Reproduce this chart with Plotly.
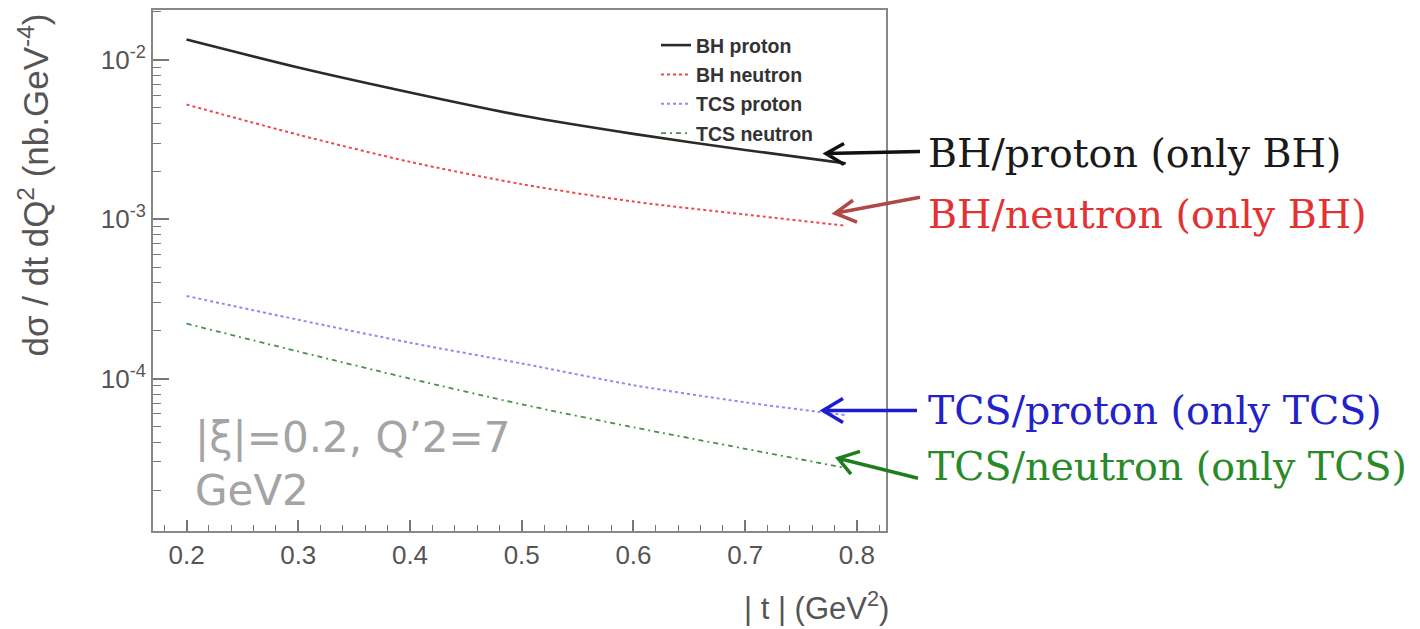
import plotly.graph_objects as go

# |t| grid (GeV^2) and cross sections (nb.GeV^-4)
t_vals = [0.20, 0.30, 0.40, 0.50, 0.60, 0.70, 0.79]
bh_proton = [1.340e-2, 8.95e-3, 6.24e-3, 4.47e-3, 3.43e-3, 2.72e-3, 2.24e-3]
bh_neutron = [5.24e-3, 3.39e-3, 2.29e-3, 1.66e-3, 1.29e-3, 1.07e-3, 9.1e-4]
tcs_proton = [3.30e-4, 2.34e-4, 1.68e-4, 1.245e-4, 9.1e-5, 7.1e-5, 5.9e-5]
tcs_neutron = [2.21e-4, 1.48e-4, 1.00e-4, 6.9e-5, 4.95e-5, 3.63e-5, 2.75e-5]

x_ticks = [0.2, 0.3, 0.4, 0.5, 0.6, 0.7, 0.8]
x_tick_labels = ["0.2", "0.3", "0.4", "0.5", "0.6", "0.7", "0.8"]
y_ticks = [1e-4, 1e-3, 1e-2]
y_tick_labels = ["10<sup>-4</sup>", "10<sup>-3</sup>", "10<sup>-2</sup>"]
y_minor = [m * 10.0 ** e for e in (-5, -4, -3, -2) for m in range(2, 10)]

W, H = 1420, 629
L, R, T, B = 153, 886, 8, 531


def px(x, y):
    """Pixel position -> paper coordinates."""
    return (x - L) / (R - L), (B - y) / (B - T)


fig = go.Figure()
series = [
    ("BH proton", bh_proton, "#2a2a2a", "solid", 2.6),
    ("BH neutron", bh_neutron, "#f04848", "dot", 2.0),
    ("TCS proton", tcs_proton, "#8c8cf4", "dot", 2.0),
    ("TCS neutron", tcs_neutron, "#4e8e4e", "5px,4px,2px,4px", 1.8),
]
for name, vals, col, dash, w in series:
    fig.add_trace(go.Scatter(
        x=t_vals, y=vals, name=name, mode="lines", legendgroup=name,
        line=dict(color=col, dash=dash, width=w, shape="spline", smoothing=0.8),
    ))

axis_font = dict(family="Liberation Sans, Arial, sans-serif", size=26, color="#555555")

fig.update_layout(
    width=W, height=H,
    margin=dict(l=L, r=W - R, t=T, b=H - B),
    paper_bgcolor="white", plot_bgcolor="white",
    showlegend=True,
    legend=dict(
        x=px(656, 0)[0], y=px(0, 24)[1], xanchor="left", yanchor="top",
        bgcolor="rgba(255,255,255,0)", borderwidth=0,
        font=dict(family="Liberation Sans, Arial, sans-serif", size=19.5, color="#333333",
                  weight="bold"),
        tracegroupgap=1, traceorder="grouped",
    ),
    xaxis=dict(
        range=[0.17, 0.826], tickvals=x_ticks, ticktext=x_tick_labels,
        ticks="inside", ticklen=11, tickwidth=1.5, tickcolor="#777777",
        minor=dict(dtick=0.02, ticks="inside", ticklen=6, tickwidth=1.2, tickcolor="#777777"),
        showline=True, linecolor="#888888", linewidth=2, mirror=True,
        showgrid=False, zeroline=False, tickfont=axis_font,
    ),
    yaxis=dict(
        type="log", range=[-4.956, -1.6875], tickvals=y_ticks, ticktext=y_tick_labels,
        ticks="inside", ticklen=16, tickwidth=1.5, tickcolor="#777777",
        minor=dict(tickvals=y_minor, ticks="inside", ticklen=8, tickwidth=1.2,
                   tickcolor="#777777"),
        showline=True, linecolor="#888888", linewidth=2, mirror=True,
        showgrid=False, zeroline=False, tickfont=axis_font,
    ),
)

annotations = []
# axis titles, aligned to the far ends of the axes
ax_, ay_ = px(0, 10)
annotations.append(dict(
    xref="paper", yref="paper", x=px(34, 0)[0], y=ay_, xanchor="center", yanchor="top",
    textangle=-90, showarrow=False,
    text="dσ / dt dQ<sup>2</sup> (nb.GeV<sup>-4</sup>)",
    font=dict(family="Liberation Sans, Arial, sans-serif", size=35, color="#555555"),
))
bx, by = px(891, 606)
annotations.append(dict(
    xref="paper", yref="paper", x=bx, y=by, xanchor="right", yanchor="middle",
    showarrow=False, text="| t | (GeV<sup>2</sup>)",
    font=dict(family="Liberation Sans, Arial, sans-serif", size=31, color="#555555"),
))

# kinematics label
for txt, yy in (("|ξ|=0.2, Q’2=7", 437), ("GeV2", 490)):
    kx, ky = px(193, yy)
    annotations.append(dict(
        xref="paper", yref="paper", x=kx, y=ky, xanchor="left", yanchor="middle",
        showarrow=False, text=txt,
        font=dict(family="DejaVu Sans, sans-serif", size=42, color="#a4a4a4"),
    ))

# curve descriptions on the right
labels = [
    ("BH/proton (only BH)", 152, "#1a1a1a"),
    ("BH/neutron (only BH)", 213, "#e23232"),
    ("TCS/proton (only TCS)", 410, "#2222c8"),
    ("TCS/neutron (only TCS)", 466, "#2a8a2a"),
]
for txt, yy, col in labels:
    lx, ly = px(926, yy)
    annotations.append(dict(
        xref="paper", yref="paper", x=lx, y=ly, xanchor="left", yanchor="middle",
        showarrow=False, text=txt,
        font=dict(family="DejaVu Serif, serif", size=39.5, color=col),
    ))
fig.update_layout(annotations=annotations)

# pointer arrows: shaft plus an open chevron at the tip
arrows = [
    ((920, 150), (826, 152), (844, 142), (844, 163), "#111111"),
    ((920, 196), (835, 212), (853, 199), (857, 221), "#b04848"),
    ((917, 410), (823, 410), (843, 398), (843, 422), "#1c1cd0"),
    ((918, 478), (838, 458), (860, 451), (851, 474), "#1e7e1e"),
]
shapes = []
for start, tip, a1, a2, col in arrows:
    s = px(*start); tp = px(*tip); p1 = px(*a1); p2 = px(*a2)
    path = (f"M{s[0]},{s[1]} L{tp[0]},{tp[1]} "
            f"M{p1[0]},{p1[1]} L{tp[0]},{tp[1]} L{p2[0]},{p2[1]}")
    shapes.append(dict(type="path", xref="paper", yref="paper", path=path,
                       line=dict(color=col, width=3.5)))
fig.update_layout(shapes=shapes)

fig.write_html("out.html")
